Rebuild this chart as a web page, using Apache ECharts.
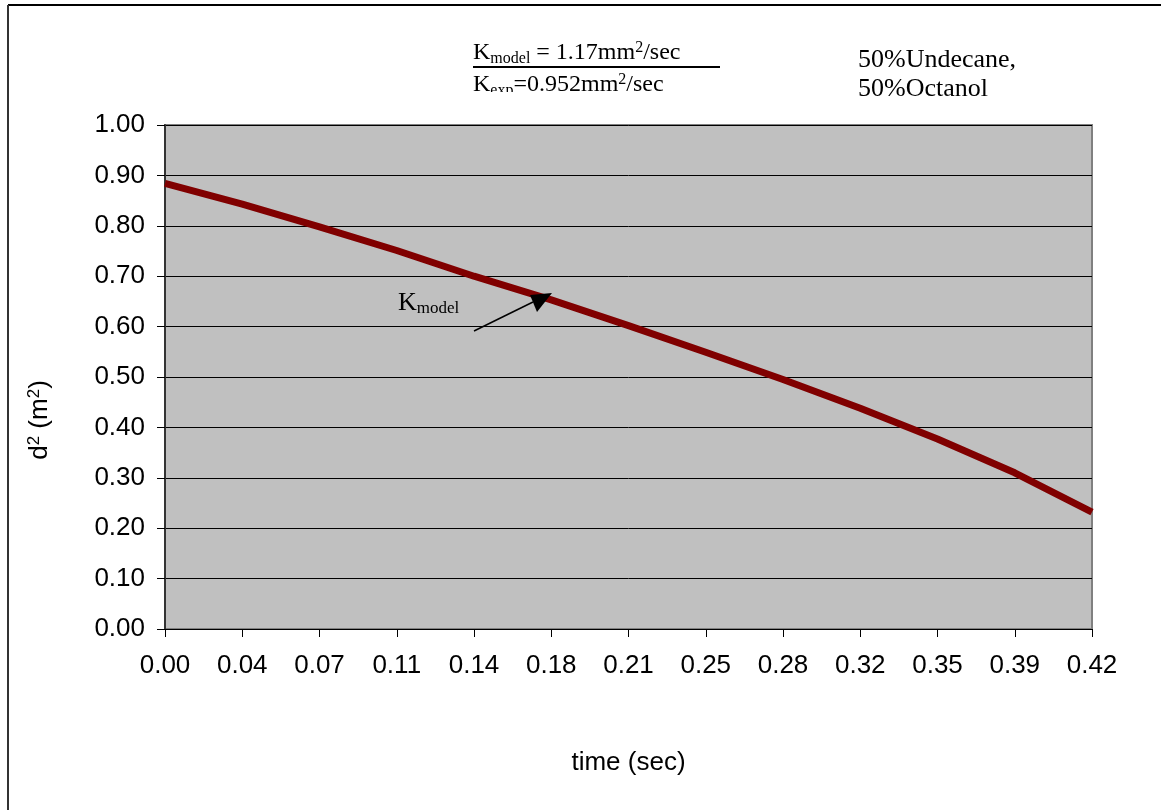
<!DOCTYPE html>
<html>
<head>
<meta charset="utf-8">
<script src="https://cdn.jsdelivr.net/npm/echarts@6/dist/echarts.min.js"></script>
<style>
  html, body { margin: 0; padding: 0; background: #ffffff; }
  #chart { width: 1161px; height: 810px; }
</style>
</head>
<body>
<div id="chart"></div>
<script>
// Droplet diameter squared vs. time
const timeLabels = ['0.00', '0.04', '0.07', '0.11', '0.14', '0.18', '0.21', '0.25', '0.28', '0.32', '0.35', '0.39', '0.42'];
const dSquared = [0.884, 0.843, 0.798, 0.751, 0.700, 0.653, 0.602, 0.549, 0.495, 0.438, 0.377, 0.310, 0.232];
const yTicks = { min: 0, max: 1, interval: 0.1 };

const chart = echarts.init(document.getElementById('chart'));
const sans = 'Liberation Sans, Arial, sans-serif';
const serif = 'Liberation Serif, Times New Roman, serif';

chart.setOption({
  animation: false,
  backgroundColor: '#ffffff',
  grid: {
    left: 165, right: 69, top: 125, bottom: 181,
    show: true, backgroundColor: '#c0c0c0', borderColor: '#808080', borderWidth: 2
  },
  xAxis: {
    type: 'category',
    data: timeLabels,
    boundaryGap: false,
    axisLine: { lineStyle: { color: '#000000', width: 1 } },
    axisTick: { show: true, length: 8, lineStyle: { color: '#000000' }, alignWithLabel: true },
    axisLabel: { color: '#000000', fontFamily: sans, fontSize: 26, margin: 24, interval: 0 },
    splitLine: { show: false },
    name: 'time (sec)',
    nameLocation: 'middle',
    nameGap: 121,
    nameTextStyle: { color: '#000000', fontFamily: sans, fontSize: 26 }
  },
  yAxis: {
    type: 'value',
    min: yTicks.min, max: yTicks.max, interval: yTicks.interval,
    axisLine: { show: true, lineStyle: { color: '#333333', width: 2 } },
    axisTick: { show: true, length: 8, lineStyle: { color: '#000000' } },
    axisLabel: {
      color: '#000000', fontFamily: sans, fontSize: 26, margin: 20,
      formatter: v => v.toFixed(2)
    },
    splitLine: { show: true, lineStyle: { color: '#000000', width: 1 } }
  },
  series: [{
    type: 'line',
    data: dSquared,
    showSymbol: false,
    symbol: 'none',
    lineStyle: { color: '#800000', width: 7 },
    itemStyle: { color: '#800000' }
  }],
  graphic: [
    // outer frame (top and left edges)
    { type: 'line', shape: { x1: 8, y1: 5, x2: 1161, y2: 5 }, style: { stroke: '#000000', lineWidth: 2 } },
    { type: 'line', shape: { x1: 8, y1: 5, x2: 8, y2: 810 }, style: { stroke: '#333333', lineWidth: 2 } },
    // y-axis title
    {
      type: 'text', x: 40, y: 420, rotation: Math.PI / 2,
      style: {
        text: '{n|d}{s|2}{n| (m}{s|2}{n|)}',
        rich: {
          n: { fontFamily: sans, fontSize: 26, fill: '#000000' },
          s: { fontFamily: sans, fontSize: 17, fill: '#000000', padding: [0, 0, 12, 0] }
        },
        align: 'center', verticalAlign: 'middle'
      }
    },
    // rate constants box
    {
      type: 'text', x: 473, y: 53,
      style: {
        text: '{n|K}{sub|model}{n| = 1.17mm}{sup|2}{n|/sec}',
        rich: {
          n: { fontFamily: serif, fontSize: 24, fill: '#000000' },
          sub: { fontFamily: serif, fontSize: 16, fill: '#000000', padding: [11, 0, 0, 0] },
          sup: { fontFamily: serif, fontSize: 16, fill: '#000000', padding: [0, 0, 11, 0] }
        },
        verticalAlign: 'middle'
      }
    },
    { type: 'line', shape: { x1: 473, y1: 67, x2: 720, y2: 67 }, style: { stroke: '#000000', lineWidth: 2 } },
    {
      type: 'text', x: 473, y: 85,
      style: {
        text: '{n|K}{sub|exp}{n|=0.952mm}{sup|2}{n|/sec}',
        rich: {
          n: { fontFamily: serif, fontSize: 24, fill: '#000000' },
          sub: { fontFamily: serif, fontSize: 16, fill: '#000000', padding: [11, 0, 0, 0] },
          sup: { fontFamily: serif, fontSize: 16, fill: '#000000', padding: [0, 0, 11, 0] }
        },
        verticalAlign: 'middle'
      }
    },
    // text box lower edge hides the descending part of the second line
    { type: 'rect', shape: { x: 468, y: 92, width: 260, height: 28 }, style: { fill: '#ffffff' }, z: 100 },
    // mixture description
    {
      type: 'text', x: 858, y: 60,
      style: { text: '50%Undecane,', fontFamily: serif, fontSize: 26, fill: '#000000', verticalAlign: 'middle' }
    },
    {
      type: 'text', x: 858, y: 89,
      style: { text: '50%Octanol', fontFamily: serif, fontSize: 26, fill: '#000000', verticalAlign: 'middle' }
    },
    // curve label with pointer
    {
      type: 'text', x: 398, y: 303, z: 50,
      style: {
        text: '{n|K}{sub|model}',
        rich: {
          n: { fontFamily: serif, fontSize: 26, fill: '#000000' },
          sub: { fontFamily: serif, fontSize: 17, fill: '#000000', padding: [12, 0, 0, 0] }
        },
        verticalAlign: 'middle'
      }
    },
    { type: 'line', z: 50, shape: { x1: 474, y1: 331, x2: 533, y2: 302 }, style: { stroke: '#000000', lineWidth: 1.5 } },
    { type: 'polygon', z: 50, shape: { points: [[552, 293], [530, 295], [537, 312]] }, style: { fill: '#000000' } }
  ]
});
</script>
</body>
</html>
